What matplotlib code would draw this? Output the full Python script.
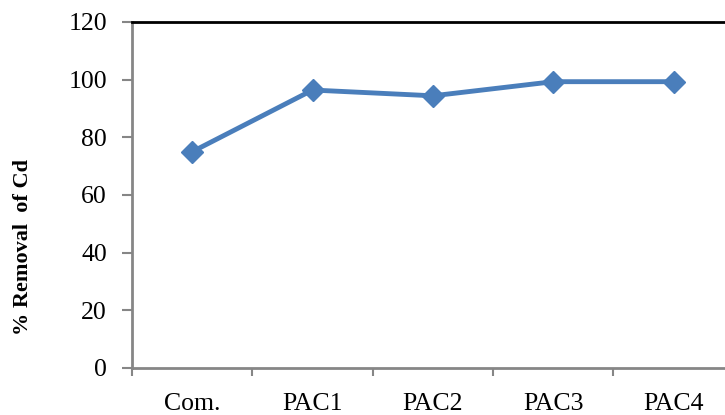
import matplotlib.pyplot as plt
from matplotlib.ticker import FixedLocator, NullFormatter

# adsorbent samples and cadmium removal (%)
samples = ['Com.', 'PAC1', 'PAC2', 'PAC3', 'PAC4']
removal = [75.0, 96.4, 94.4, 99.3, 99.3]
y_ticks = [0, 20, 40, 60, 80, 100, 120]

plt.rcParams['font.family'] = ['Liberation Serif', 'DejaVu Serif']

fig = plt.figure(figsize=(7.25, 4.15), dpi=100)
ax = fig.add_axes([0.1821, 0.1133, 0.830, 0.8337])

x = list(range(len(samples)))
ax.plot(x, removal, color='#4A7EBB', linewidth=3.5, marker='D',
        markersize=11, markerfacecolor='#4A7EBB', markeredgecolor='#4A7EBB',
        clip_on=False)

ax.set_xlim(-0.5, len(samples) - 0.5)
ax.set_ylim(0, 120)
ax.set_yticks(y_ticks)
ax.tick_params(axis='y', labelsize=18.5, color='#868686', length=7, width=1.5,
               pad=11, labelcolor='black')

# category labels sit between the boundary ticks
ax.xaxis.set_major_locator(FixedLocator([i - 0.5 for i in range(len(samples) + 1)]))
ax.xaxis.set_major_formatter(NullFormatter())
ax.set_xticks(x, samples, minor=True)
ax.tick_params(axis='x', which='major', color='#868686', length=6, width=1.5)
ax.tick_params(axis='x', which='minor', length=0, labelsize=18.5, pad=18)

for side in ('left', 'bottom'):
    ax.spines[side].set_color('#868686')
    ax.spines[side].set_linewidth(2)
ax.spines['top'].set_color('black')
ax.spines['top'].set_linewidth(2)
ax.spines['right'].set_visible(False)

ax.set_ylabel('% Removal  of Cd', fontsize=16, fontweight='bold')
ax.yaxis.set_label_coords(-0.164, 0.35)

fig.savefig('out.png', dpi=100)
